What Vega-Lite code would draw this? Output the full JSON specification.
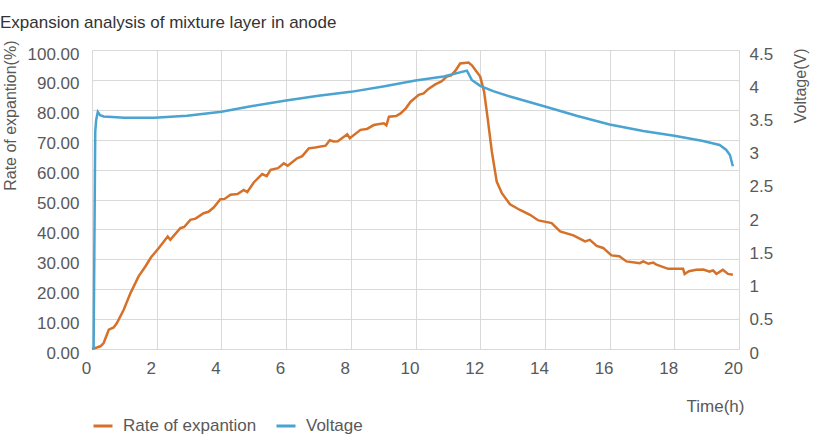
{
  "$schema": "https://vega.github.io/schema/vega-lite/v6.json",
  "width": 647,
  "height": 299,
  "autosize": {"type": "none"},
  "padding": {"left": 92, "top": 50, "right": 74, "bottom": 87},
  "background": "white",
  "title": {
    "text": "Expansion analysis of mixture layer in anode",
    "anchor": "start",
    "frame": "group",
    "dx": -92,
    "dy": 21,
    "offset": 16,
    "baseline": "alphabetic",
    "font": "Liberation Sans",
    "fontSize": 17,
    "fontWeight": "normal",
    "color": "#333333"
  },
  "config": {
    "view": {"stroke": "#D9D9D9", "strokeWidth": 1},
    "axis": {
      "labelFont": "Liberation Sans",
      "labelFontSize": 17,
      "labelColor": "#595959",
      "titleFont": "Liberation Sans",
      "titleFontSize": 16,
      "titleFontWeight": "normal",
      "titleColor": "#595959",
      "gridColor": "#D9D9D9",
      "domain": false,
      "ticks": false,
      "labelFlush": false
    },
    "legend": {
      "labelFont": "Liberation Sans",
      "labelFontSize": 17,
      "labelColor": "#595959"
    }
  },
  "data": {
    "values": [
      {"series": "Rate of expantion", "t": 0, "v": 0},
      {"series": "Rate of expantion", "t": 0.15, "v": 0.5},
      {"series": "Rate of expantion", "t": 0.26, "v": 0.9},
      {"series": "Rate of expantion", "t": 0.36, "v": 2},
      {"series": "Rate of expantion", "t": 0.45, "v": 4.5},
      {"series": "Rate of expantion", "t": 0.52, "v": 6.5},
      {"series": "Rate of expantion", "t": 0.67, "v": 7.2},
      {"series": "Rate of expantion", "t": 0.77, "v": 8.7},
      {"series": "Rate of expantion", "t": 0.98, "v": 13.1},
      {"series": "Rate of expantion", "t": 1.19, "v": 18.7},
      {"series": "Rate of expantion", "t": 1.44, "v": 24.3},
      {"series": "Rate of expantion", "t": 1.65, "v": 27.6},
      {"series": "Rate of expantion", "t": 1.82, "v": 30.6},
      {"series": "Rate of expantion", "t": 2.06, "v": 33.7},
      {"series": "Rate of expantion", "t": 2.34, "v": 37.6},
      {"series": "Rate of expantion", "t": 2.42, "v": 36.5},
      {"series": "Rate of expantion", "t": 2.73, "v": 40.4},
      {"series": "Rate of expantion", "t": 2.85, "v": 40.8},
      {"series": "Rate of expantion", "t": 3.04, "v": 43.2},
      {"series": "Rate of expantion", "t": 3.2, "v": 43.6},
      {"series": "Rate of expantion", "t": 3.45, "v": 45.4},
      {"series": "Rate of expantion", "t": 3.6, "v": 45.9},
      {"series": "Rate of expantion", "t": 3.76, "v": 47.3},
      {"series": "Rate of expantion", "t": 3.97, "v": 50.1},
      {"series": "Rate of expantion", "t": 4.1, "v": 50.2},
      {"series": "Rate of expantion", "t": 4.28, "v": 51.6},
      {"series": "Rate of expantion", "t": 4.5, "v": 51.8},
      {"series": "Rate of expantion", "t": 4.69, "v": 53.2},
      {"series": "Rate of expantion", "t": 4.8, "v": 52.5},
      {"series": "Rate of expantion", "t": 5.0, "v": 55.7},
      {"series": "Rate of expantion", "t": 5.26, "v": 58.5},
      {"series": "Rate of expantion", "t": 5.4, "v": 57.8},
      {"series": "Rate of expantion", "t": 5.52, "v": 59.9},
      {"series": "Rate of expantion", "t": 5.75, "v": 60.5},
      {"series": "Rate of expantion", "t": 5.93, "v": 62.1},
      {"series": "Rate of expantion", "t": 6.05, "v": 61.3},
      {"series": "Rate of expantion", "t": 6.34, "v": 63.8},
      {"series": "Rate of expantion", "t": 6.5, "v": 64.5},
      {"series": "Rate of expantion", "t": 6.7, "v": 67.1},
      {"series": "Rate of expantion", "t": 6.9, "v": 67.4},
      {"series": "Rate of expantion", "t": 7.22, "v": 68.0},
      {"series": "Rate of expantion", "t": 7.35, "v": 69.8},
      {"series": "Rate of expantion", "t": 7.47, "v": 69.4},
      {"series": "Rate of expantion", "t": 7.6, "v": 69.5},
      {"series": "Rate of expantion", "t": 7.89, "v": 71.8},
      {"series": "Rate of expantion", "t": 7.97, "v": 70.5},
      {"series": "Rate of expantion", "t": 8.3, "v": 73.3},
      {"series": "Rate of expantion", "t": 8.5, "v": 73.6},
      {"series": "Rate of expantion", "t": 8.71, "v": 74.9},
      {"series": "Rate of expantion", "t": 9.02, "v": 75.5},
      {"series": "Rate of expantion", "t": 9.1, "v": 74.8},
      {"series": "Rate of expantion", "t": 9.18, "v": 77.7},
      {"series": "Rate of expantion", "t": 9.4, "v": 77.9},
      {"series": "Rate of expantion", "t": 9.54, "v": 78.8},
      {"series": "Rate of expantion", "t": 9.7, "v": 80.5},
      {"series": "Rate of expantion", "t": 9.85, "v": 82.7},
      {"series": "Rate of expantion", "t": 10.1, "v": 85},
      {"series": "Rate of expantion", "t": 10.25, "v": 85.5},
      {"series": "Rate of expantion", "t": 10.4, "v": 87},
      {"series": "Rate of expantion", "t": 10.61, "v": 88.5},
      {"series": "Rate of expantion", "t": 10.8, "v": 89.5},
      {"series": "Rate of expantion", "t": 10.97, "v": 91.1},
      {"series": "Rate of expantion", "t": 11.1, "v": 91.5},
      {"series": "Rate of expantion", "t": 11.23, "v": 93},
      {"series": "Rate of expantion", "t": 11.38, "v": 95.5},
      {"series": "Rate of expantion", "t": 11.64, "v": 95.8},
      {"series": "Rate of expantion", "t": 11.75, "v": 94.8},
      {"series": "Rate of expantion", "t": 11.85, "v": 93.3},
      {"series": "Rate of expantion", "t": 12.0, "v": 91.1},
      {"series": "Rate of expantion", "t": 12.12, "v": 86.1},
      {"series": "Rate of expantion", "t": 12.23, "v": 77.2},
      {"series": "Rate of expantion", "t": 12.36, "v": 66},
      {"series": "Rate of expantion", "t": 12.51, "v": 56},
      {"series": "Rate of expantion", "t": 12.67, "v": 52.1},
      {"series": "Rate of expantion", "t": 12.92, "v": 48.4},
      {"series": "Rate of expantion", "t": 13.23, "v": 46.5},
      {"series": "Rate of expantion", "t": 13.54, "v": 44.9},
      {"series": "Rate of expantion", "t": 13.8, "v": 43},
      {"series": "Rate of expantion", "t": 14.21, "v": 42.1},
      {"series": "Rate of expantion", "t": 14.47, "v": 39.3},
      {"series": "Rate of expantion", "t": 14.88, "v": 38},
      {"series": "Rate of expantion", "t": 15.24, "v": 36},
      {"series": "Rate of expantion", "t": 15.39, "v": 36.5},
      {"series": "Rate of expantion", "t": 15.6, "v": 34.5},
      {"series": "Rate of expantion", "t": 15.8, "v": 33.8},
      {"series": "Rate of expantion", "t": 16.06, "v": 31.3},
      {"series": "Rate of expantion", "t": 16.3, "v": 31},
      {"series": "Rate of expantion", "t": 16.52, "v": 29.3},
      {"series": "Rate of expantion", "t": 16.93, "v": 28.7},
      {"series": "Rate of expantion", "t": 17.04, "v": 29.3},
      {"series": "Rate of expantion", "t": 17.2, "v": 28.5},
      {"series": "Rate of expantion", "t": 17.35, "v": 28.9},
      {"series": "Rate of expantion", "t": 17.45, "v": 28.2},
      {"series": "Rate of expantion", "t": 17.81, "v": 26.8},
      {"series": "Rate of expantion", "t": 18.27, "v": 26.8},
      {"series": "Rate of expantion", "t": 18.32, "v": 25.1},
      {"series": "Rate of expantion", "t": 18.45, "v": 26},
      {"series": "Rate of expantion", "t": 18.68, "v": 26.5},
      {"series": "Rate of expantion", "t": 18.9, "v": 26.6},
      {"series": "Rate of expantion", "t": 19.09, "v": 25.9},
      {"series": "Rate of expantion", "t": 19.2, "v": 26.3},
      {"series": "Rate of expantion", "t": 19.3, "v": 25.1},
      {"series": "Rate of expantion", "t": 19.4, "v": 25.8},
      {"series": "Rate of expantion", "t": 19.5, "v": 26.5},
      {"series": "Rate of expantion", "t": 19.66, "v": 25.1},
      {"series": "Rate of expantion", "t": 19.81, "v": 24.8},
      {"series": "Voltage", "t": 0.05, "v": 0},
      {"series": "Voltage", "t": 0.1, "v": 3.27},
      {"series": "Voltage", "t": 0.13, "v": 3.45},
      {"series": "Voltage", "t": 0.18, "v": 3.57},
      {"series": "Voltage", "t": 0.25, "v": 3.52},
      {"series": "Voltage", "t": 0.36, "v": 3.5},
      {"series": "Voltage", "t": 1.0, "v": 3.48},
      {"series": "Voltage", "t": 1.93, "v": 3.48},
      {"series": "Voltage", "t": 2.94, "v": 3.51},
      {"series": "Voltage", "t": 4.0, "v": 3.57},
      {"series": "Voltage", "t": 5.0, "v": 3.66},
      {"series": "Voltage", "t": 6.0, "v": 3.74},
      {"series": "Voltage", "t": 7.0, "v": 3.81},
      {"series": "Voltage", "t": 8.0, "v": 3.87},
      {"series": "Voltage", "t": 9.0, "v": 3.95},
      {"series": "Voltage", "t": 10.0, "v": 4.04},
      {"series": "Voltage", "t": 10.87, "v": 4.1},
      {"series": "Voltage", "t": 11.59, "v": 4.19},
      {"series": "Voltage", "t": 11.74, "v": 4.05},
      {"series": "Voltage", "t": 12.0, "v": 3.96},
      {"series": "Voltage", "t": 12.4, "v": 3.88},
      {"series": "Voltage", "t": 12.92, "v": 3.8},
      {"series": "Voltage", "t": 14.0, "v": 3.65},
      {"series": "Voltage", "t": 14.98, "v": 3.51},
      {"series": "Voltage", "t": 16.0, "v": 3.38},
      {"series": "Voltage", "t": 17.04, "v": 3.28},
      {"series": "Voltage", "t": 18.0, "v": 3.21},
      {"series": "Voltage", "t": 18.89, "v": 3.13},
      {"series": "Voltage", "t": 19.4, "v": 3.07},
      {"series": "Voltage", "t": 19.6, "v": 3.0},
      {"series": "Voltage", "t": 19.72, "v": 2.92},
      {"series": "Voltage", "t": 19.81, "v": 2.75}
    ]
  },
  "encoding": {
    "x": {
      "field": "t",
      "type": "quantitative",
      "scale": {"domain": [0, 20], "nice": false},
      "axis": {
        "values": [0, 2, 4, 6, 8, 10, 12, 14, 16, 18, 20],
        "title": "Time(h)",
        "titleFontSize": 17,
        "titleX": 652,
        "titleY": 57,
        "titleAlign": "right",
        "titleBaseline": "middle",
        "labelPadding": 11,
        "labelOffset": -6
      }
    },
    "color": {
      "field": "series",
      "type": "nominal",
      "scale": {"domain": ["Rate of expantion", "Voltage"], "range": ["#D6712A", "#4AA3D1"]},
      "legend": {
        "title": null,
        "orient": "none",
        "legendX": 0,
        "legendY": 365,
        "direction": "horizontal",
        "symbolType": "stroke",
        "symbolStrokeWidth": 3,
        "symbolSize": 361,
        "labelOffset": 9,
        "columnPadding": 13
      }
    }
  },
  "layer": [
    {
      "transform": [{"filter": "datum.series === 'Rate of expantion'"}],
      "mark": {"type": "line", "strokeWidth": 2.5},
      "encoding": {
        "y": {
          "field": "v",
          "type": "quantitative",
          "scale": {"domain": [0, 100], "nice": false},
          "axis": {
            "orient": "left",
            "values": [0, 10, 20, 30, 40, 50, 60, 70, 80, 90, 100],
            "format": ".2f",
            "title": "Rate of expantion(%)",
            "titleFontSize": 16,
            "titleAngle": -90,
            "titleAlign": "right",
            "titleBaseline": "middle",
            "titleX": -82,
            "titleY": -10,
            "labelPadding": 13,
            "labelOffset": 4
          }
        }
      }
    },
    {
      "transform": [{"filter": "datum.series === 'Voltage'"}],
      "mark": {"type": "line", "strokeWidth": 2.5},
      "encoding": {
        "y": {
          "field": "v",
          "type": "quantitative",
          "scale": {"domain": [0, 4.5], "nice": false},
          "axis": {
            "orient": "right",
            "values": [0, 0.5, 1, 1.5, 2, 2.5, 3, 3.5, 4, 4.5],
            "format": "~r",
            "grid": false,
            "title": "Voltage(V)",
            "titleFontSize": 16,
            "titleAngle": -90,
            "titleAlign": "right",
            "titleBaseline": "middle",
            "titleX": 61,
            "titleY": -2,
            "labelPadding": 10,
            "labelOffset": 4
          }
        }
      }
    }
  ],
  "resolve": {"scale": {"y": "independent"}}
}
